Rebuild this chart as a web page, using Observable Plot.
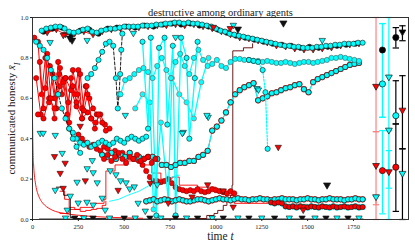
<!DOCTYPE html>
<html><head><meta charset="utf-8">
<script src="https://cdn.jsdelivr.net/npm/d3@7"></script>
<script src="https://cdn.jsdelivr.net/npm/@observablehq/plot@0.6"></script>
<style>body{margin:0;background:#fff}svg{display:block}</style>
</head><body><div id="chart"></div>
<script>
// ---------------- data ----------------
const xTicks = [0, 250, 500, 750, 1000, 1250, 1500, 1750];
const yTicks = [0, 0.2, 0.4, 0.6, 0.8, 1.0];
const titleText = "destructive among ordinary agents";

// dense runs: start time + record interval, then values
const topCyanStart = 50, topCyanStep = 25;
const topCyanV = [.935,.945,.95,.955,.955,.945,.93,.925,.93,.94,.945,.93,.925,.935,.94,.945,.945,.95,.955,.955,.955,.955,.96,.96,.96,.965,.965,.97,.97,.975,.975,.97,.975,.97,.97,.965,.96,.955,.945,.935,.93,.92,.915,.91,.905,.90,.895,.89,.885,.88,.875,.87,.865,.86,.86,.855,.855,.85,.85,.85,.855,.855,.86,.86,.865,.865,.87,.87,.87,.875,.875];
const topBlackStart = 60, topBlackStep = 50;
const topBlackV = [.93,.945,.95,.92,.935,.94,.92,.945,.95,.955,.95,.96,.955,.965,.97,.965,.97,.96,.955,.94,.925,.91,.90,.89,.88,.87,.865,.86,.85,.855,.85,.855,.86,.865,.87];
const topRedStart = 80, topRedStep = 50;
const topRedV = [.925,.94,.915,.92,.93,.915,.93,.94,.945,.95,.95,.955,.96,.96,.965,.96,.965,.955,.945,.93,.915,.90,.895,.885,.875,.86,.855,.845,.84,.84,.845,.85,.86,.865,.87];
const cyanHighStart = 480, cyanHighStep = 25;
const cyanHighV = [.62,.69,.70,.72,.74,.75,.73,.70,.76,.80,.74,.70,.78,.82,.76,.72,.80,.84,.79,.76,.77,.79,.76,.75,.78,.795,.795,.79,.79,.785,.785,.78,.785,.78,.775,.775,.78,.775,.77,.775,.78,.78,.775,.78,.785,.79,.80,.80,.805,.80,.795,.79,.785];
const riseStart = 380, riseStep = 25;
const riseV = [.32,.31,.33,.30,.32,.31,.33,.30,.31,.30,.31,.31,.30,.27,.27,.26,.27,.28,.28,.29,.29,.31,.32,.34,.44,.46,.49,.53,.58,.62,.64,.655,.665,.675,.59,.60,.61,.625,.63,.64,.65,.655,.665,.67,.645,.63,.68,.695,.705,.715,.725,.735,.745,.755,.765,.77,.775];
const redBandStart = 390, redBandStep = 20;
const redBandV = [.30,.32,.29,.31,.33,.30,.28,.31,.30,.32,.29,.30,.31,.28,.30];
const uBandStart = 560, uBandStep = 20;
const uBandV = [.30,.29,.27,.24,.21,.19,.19,.185,.19,.20,.18,.16,.15,.145,.14,.145,.14,.15,.14,.135,.14,.15,.145,.14,.135,.13,.14,.13];
const lowBandStart = 620, lowBandStep = 20;
const lowBandV = [.09,.095,.10,.09,.095,.10,.095,.09,.095,.10,.095,.09,.09,.095,.10,.10,.095,.09,.095,.10,.105,.10,.10,.095,.10,.105,.10,.10,.095,.10,.10,.105,.10,.10,.095,.10,.10,.105,.10,.10,.10,.095,.10,.10,.105,.10,.10,.095,.10,.10,.105,.10,.10,.10,.095,.10,.10,.105,.10,.10];
const lowestBandStart = 1300, lowestBandStep = 20;
const lowestBandV = [.085,.08,.085,.08,.065,.062,.065,.06,.065,.062,.06,.065,.062,.06,.065,.062,.06,.065,.06,.062,.065,.06,.062,.065,.06,.062];
const cyanMidStart = 200, cyanMidStep = 20;
const cyanMidV = [.45,.43,.40,.38,.37,.38,.36,.37,.38,.39,.38,.37,.38,.40,.39,.38,.40,.41,.40,.39,.40,.41];
const redMidStart = 250, redMidStep = 20;
const redMidV = [.42,.40,.38,.36,.37,.35,.34,.36,.35,.33,.34,.32,.33,.31,.32,.30];
const redEarly1Start = 10, redEarly1Step = 20;
const redEarly1V = [.90,.88,.62,.80,.58,.72,.55,.75,.68,.52,.70,.62,.74,.50,.66,.60,.55,.52];
const redEarly2Start = 20, redEarly2Step = 25;
const redEarly2V = [.70,.52,.65,.76,.60,.72,.69,.58,.74,.62,.55,.66,.50,.48,.52,.47,.45];
const redEarly3Start = 30, redEarly3Step = 30;
const redEarly3V = [.52,.50,.60,.55,.66,.70,.64,.56,.50,.53];
const redEarly4Start = 40, redEarly4Step = 20;
const redEarly4V = [.78,.55,.82,.60,.50,.78,.62,.70,.48,.66,.58,.72,.54,.62,.50,.45,.52,.48,.44];
const blackEarlyStart = 20, blackEarlyStep = 20;
const blackEarlyV = [.88,.86,.84,.80,.74,.70,.62,.55,.50,.45,.40,.36,.33];

// irregular runs
const blackClimbT = [300,320,340,360,380,400,420,440,455,465,472,478,484,490];
const blackClimbV = [.70,.72,.75,.79,.83,.87,.88,.86,.70,.55,.62,.72,.84,.92];
const cyanWild1T = [560,600,640,660,700,740,760,800,840,880,920,960];
const cyanWild1V = [.55,.62,.58,.05,.48,.10,.70,.62,.58,.50,.68,.80];
const cyanWild2T = [600,630,645,675,690,720,735,765,780,810,840,855,885,900];
const cyanWild2V = [.88,.45,.90,.02,.85,.90,.47,.86,.02,.90,.80,.40,.70,.88];
const cyanDropT = [1180,1205,1230,1255,1270,1282];
const cyanDropV = [.79,.785,.78,.74,.63,.35];

// thin lines without markers
const redDecayT = [0,3,6,10,15,22,32,45,65,90,125,175,240,330,450,600];
const redDecayV = [.50,.33,.27,.22,.185,.15,.12,.095,.072,.055,.04,.03,.022,.015,.01,.006];
const redStepT = [150,200,260,330,390,400,450,520,600,650,700,760,800,900,1000,1050,1100,1300,1500,1800];
const redStepV = [.03,.05,.06,.08,.10,.24,.27,.29,.27,.23,.20,.21,.17,.16,.15,.12,.08,.075,.07,.07];
const redStep2T = [150,175,200,230,260,290,320,350,380,400];
const redStep2V = [.14,.10,.06,.05,.04,.045,.05,.055,.07,.09];
const blackStepT = [700,800,900,950,990,1010,1040,1060,1080,1088,1092,1150,1200];
const blackStepV = [.003,.003,.005,.02,.03,.045,.07,.09,.12,.17,.835,.85,.87];
const blackStep2T = [130,170,205,206,240,300,400];
const blackStep2V = [.16,.12,.10,.01,.005,.004,.003];
const cyanThinT = [420,470,520,580,640,700,760,800];
const cyanThinV = [.09,.10,.12,.14,.17,.19,.21,.22];
const floorT = [40,1800];
const floorV = [.003,.003];

// scattered down-triangles
const triCyanT = [42,58,124,162,124,243,326,298,331,353,206,249,297,331,380,396,189,576,424,455,480,510,530,555,680,615,96,298,506,550,958,1224,951,1580,822,1232,817,780,1095];
const triCyanV = [.425,.425,.415,.326,.143,.183,.29,.25,.23,.18,.114,.08,.084,.07,.104,.045,.045,.079,.24,.22,.19,.18,.15,.16,.17,.04,.875,.885,.514,.92,.505,.647,.514,.885,.43,.64,.425,.90,.96];
const triRedT = [168,151,167,178,288,467,642,1340,1476,1094,955,1040,986,1078,120,260,740,870];
const triRedV = [.91,.227,.153,.277,.19,.143,.178,.356,.045,.06,.17,.14,.95,.944,.31,.46,.08,.11];
const triBlackT = [216,205,1368,1606,1120];
const triBlackV = [.885,.895,.97,.168,.94];
const floorCyanT = [180,280,420,560,700,840,980,1120,1250,1400,1540,1660,1780];
const floorCyanV = [.006,.006,.006,.006,.006,.006,.006,.006,.006,.006,.006,.006,.006];
const floorBlackT = [230,330,500,640,780,900,1040,1180,1320,1470,1600,1720];
const floorBlackV = [.006,.006,.006,.006,.006,.006,.006,.006,.006,.006,.006,.006];

// summary error bars (right panel)
const ebT    = [1873,1873,1873,1908,1908,1908,1943,1943,1943,1981,1981,1981,2017,2017,2017];
const ebMean = [.657,.265,.11,.839,.671,.242,.703,.44,.234,.901,.514,.259,.926,.539,.226];
const ebLo   = [.435,.073,0,.506,.506,.028,.44,0,.155,.849,.473,.04,.885,.35,0];
const ebHi   = [1,.435,.12,.97,.97,.44,1,.44,.341,.95,.687,.473,.959,.712,.35];
const ebMark = ["tri","tri","tri","circle","circle","circle","tri","tri","tri","circle","circle","circle","tri","tri","tri"];
const ebFill = ["red","red","cyan","black","cyan","red","cyan","cyan","red","black","cyan","red","black","red","cyan"];
const ebGroup = ["red","red","red","cyan","cyan","cyan","cyan","cyan","cyan","black","black","black","black","black","black"];

// ---------------- styles ----------------
const COL = {cyan: "#00ffff", red: "#ff0000", black: "#000000", pink: "#ff8080", gray: "#9a9a9a"};
const triDown = {draw(ctx, size) { const a = Math.sqrt(size); ctx.moveTo(-0.62*a, -0.45*a); ctx.lineTo(0.62*a, -0.45*a); ctx.lineTo(0, 0.62*a); ctx.closePath(); }};
const capSym = {draw(ctx) { ctx.moveTo(-3.2, 0); ctx.lineTo(3.2, 0); }};
const RC = 2.6, RT = 2.9;

function run(start, step, vals) { return vals.map((v, i) => ({t: start + i * step, v})); }
function pairs(ts, vs) { return ts.map((t, i) => ({t, v: vs[i]})); }

const x = d => d.t, y = d => d.v;
const marks = [];
function lineMark(data, stroke, opts = {}) {
  marks.push(Plot.line(data, {x, y, stroke, strokeWidth: 0.9, clip: true, ...opts}));
}
function dotMark(data, kind, fill, opts = {}) {
  marks.push(Plot.dot(data, {x, y, r: kind === "tri" ? RT : RC, symbol: kind === "tri" ? triDown : "circle", fill, stroke: "#111", strokeWidth: 0.6, clip: true, ...opts}));
}

// thin background lines
lineMark(pairs(floorT, floorV), COL.gray, {strokeWidth: 2});
lineMark(pairs(redDecayT, redDecayV), COL.red, {curve: "monotone-x"});
lineMark(pairs(redStepT, redStepV), COL.red, {curve: "step-after"});
lineMark(pairs(redStep2T, redStep2V), COL.red, {curve: "step-after"});
lineMark(pairs(blackStepT, blackStepV), "#5a0000", {curve: "step-after"});
lineMark(pairs(blackStep2T, blackStep2V), COL.black, {curve: "step-after"});
lineMark(pairs(cyanThinT, cyanThinV), COL.cyan);

// early red cluster
for (const [s, st, vals] of [[redEarly1Start, redEarly1Step, redEarly1V], [redEarly2Start, redEarly2Step, redEarly2V], [redEarly3Start, redEarly3Step, redEarly3V], [redEarly4Start, redEarly4Step, redEarly4V]]) {
  const d = run(s, st, vals);
  lineMark(d, COL.red, {strokeWidth: 1});
  dotMark(d, "circle", COL.red, {stroke: "#7a0000"});
}
// mid bands
{ const d = run(redMidStart, redMidStep, redMidV); lineMark(d, COL.red); dotMark(d, "circle", COL.red, {stroke: "#7a0000"}); }
{ const d = run(uBandStart, uBandStep, uBandV); lineMark(d, COL.red); dotMark(d, "circle", COL.red, {stroke: "#7a0000"}); }
{ const d = run(cyanMidStart, cyanMidStep, cyanMidV); lineMark(d, COL.cyan, {strokeWidth: 1.2}); dotMark(d, "circle", COL.cyan); }
{ const d = run(blackEarlyStart, blackEarlyStep, blackEarlyV); lineMark(d, COL.black, {strokeDasharray: "3,2"}); dotMark(d, "circle", COL.cyan); }
{ const d = pairs(blackClimbT, blackClimbV); lineMark(d, COL.black, {strokeDasharray: "3,2"}); dotMark(d, "circle", COL.cyan); }
// wild cyan runs
{ const d = pairs(cyanWild1T, cyanWild1V); lineMark(d, COL.cyan, {strokeWidth: 1.3}); dotMark(d, "circle", COL.cyan, {stroke: "#c44"}); }
{ const d = pairs(cyanWild2T, cyanWild2V); lineMark(d, COL.cyan, {strokeWidth: 1.3}); dotMark(d, "circle", COL.cyan); }
// rising run
{ const d = run(riseStart, riseStep, riseV); lineMark(d, COL.red, {strokeDasharray: "2,2"}); lineMark(d, COL.cyan, {strokeWidth: 1.2}); dotMark(d, "circle", COL.red, {r: RC + 0.5, stroke: "none"}); dotMark(d, "circle", COL.cyan); }
{ const d = run(redBandStart, redBandStep, redBandV); lineMark(d, COL.red); dotMark(d, "circle", COL.red, {stroke: "#7a0000"}); }
// low bands
{ const d = run(lowBandStart, lowBandStep, lowBandV); lineMark(d, COL.red); dotMark(d, "circle", COL.red, {r: RC + 0.5, stroke: "none"}); dotMark(d, "circle", COL.cyan); }
{ const d = run(lowestBandStart, lowestBandStep, lowestBandV); lineMark(d, COL.cyan); dotMark(d, "circle", COL.cyan, {r: RC + 0.5, stroke: "none"}); dotMark(d, "circle", COL.red); }
// top band
{ const d = run(topRedStart, topRedStep, topRedV); lineMark(d, COL.red); dotMark(d, "tri", COL.red); }
{ const d = run(topBlackStart, topBlackStep, topBlackV); lineMark(d, COL.black, {strokeDasharray: "3,2"}); dotMark(d, "circle", "#111"); }
{ const d = run(topCyanStart, topCyanStep, topCyanV); lineMark(d, COL.cyan, {strokeWidth: 1.2}); dotMark(d, "circle", COL.cyan); }
{ const d = run(cyanHighStart, cyanHighStep, cyanHighV); lineMark(d, COL.cyan, {strokeWidth: 1.2}); dotMark(d, "circle", COL.cyan, {stroke: "#555"}); }
{ const d = pairs(cyanDropT, cyanDropV); lineMark(d, COL.cyan, {strokeDasharray: "2,1.5", strokeWidth: 1.2}); dotMark(d, "circle", COL.cyan); }
// scattered triangles
dotMark(pairs(triCyanT, triCyanV), "tri", COL.cyan);
dotMark(pairs(triRedT, triRedV), "tri", COL.red);
dotMark(pairs(triBlackT, triBlackV), "tri", "#111", {r: RT + 0.4});
dotMark(pairs(floorCyanT, floorCyanV), "tri", COL.cyan);
dotMark(pairs(floorBlackT, floorBlackV), "tri", "#111");

// error bars
const eb = ebT.map((t, i) => ({t, v: ebMean[i], lo: ebLo[i], hi: ebHi[i], mk: ebMark[i], fill: ebFill[i], g: ebGroup[i]}));
const barColor = g => g === "red" ? COL.pink : g === "cyan" ? COL.cyan : COL.black;
marks.push(Plot.ruleX(eb, {x: "t", y1: "lo", y2: "hi", stroke: d => barColor(d.g), strokeWidth: 1.2}));
marks.push(Plot.dot(eb, {x: "t", y: "lo", symbol: capSym, stroke: d => barColor(d.g), fill: "none", strokeWidth: 1.2}));
marks.push(Plot.dot(eb, {x: "t", y: "hi", symbol: capSym, stroke: d => barColor(d.g), fill: "none", strokeWidth: 1.2}));
for (const kind of ["circle", "tri"]) {
  marks.push(Plot.dot(eb.filter(d => d.mk === kind), {x: "t", y: "v", r: 3.1, symbol: kind === "tri" ? triDown : "circle", fill: d => COL[d.fill], stroke: "#111", strokeWidth: 0.7}));
}

// frame, axes, labels
marks.push(Plot.frame({stroke: "#333", strokeWidth: 1}));
marks.push(Plot.axisX({anchor: "bottom", ticks: xTicks, tickSize: 2, tickPadding: 3, tickFormat: d3.format("d"), fontSize: 6.5, label: null}));
marks.push(Plot.axisY({anchor: "left", ticks: yTicks, tickSize: 2, tickPadding: 2, tickFormat: d3.format(".1f"), fontSize: 6.5, label: null}));
marks.push(Plot.text([titleText], {frameAnchor: "top", dy: -9, fontSize: 10.5, fill: "#222"}));
marks.push(Plot.text(["communicated honesty "], {frameAnchor: "left", textAnchor: "middle", dx: -21, rotate: -90, fontSize: 11, fill: "#222", className: "ylab"}));
marks.push(Plot.text(["time "], {frameAnchor: "bottom", textAnchor: "middle", dy: 20, fontSize: 11.5, fill: "#222", className: "xlab"}));

const chart = Plot.plot({
  width: 415, height: 249,
  marginTop: 17, marginBottom: 30, marginLeft: 32, marginRight: 7,
  x: {domain: [0, 2050], axis: null},
  y: {domain: [0, 1], axis: null},
  style: {fontFamily: "'Liberation Serif', 'DejaVu Serif', serif", color: "#222", background: "#fff"},
  marks
});
document.getElementById("chart").append(chart);

// math-style suffixes on the axis labels
const ylab = d3.select(chart).select(".ylab text");
ylab.append("tspan").attr("font-style", "italic").text("x\u0304");
ylab.append("tspan").attr("font-style", "italic").attr("font-size", "8").attr("baseline-shift", "sub").text("I");
const xlab = d3.select(chart).select(".xlab text");
xlab.append("tspan").attr("font-style", "italic").text("t");
</script></body></html>
